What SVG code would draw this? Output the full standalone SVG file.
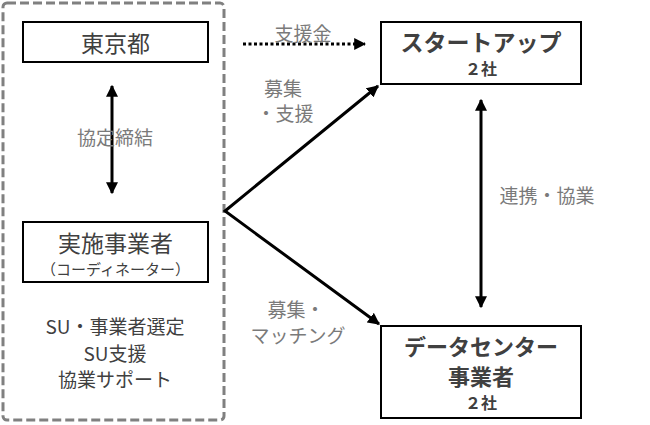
<svg xmlns="http://www.w3.org/2000/svg" width="650" height="425" viewBox="0 0 650 425">
<style>
text{font-family:"Noto Sans CJK JP","Noto Sans",sans-serif;text-anchor:middle;dominant-baseline:central}
.box{fill:#fff;stroke:#000;stroke-width:2}
.nt{fill:#404040}
.lb{fill:#7a7a7a;font-size:19px}
.b{font-weight:bold}
.ln{stroke:#000;stroke-width:3;fill:none}
</style>
<defs>
<marker id="ah" viewBox="0 0 10 10" refX="9" refY="5" markerWidth="4" markerHeight="4" orient="auto-start-reverse" markerUnits="strokeWidth">
<path d="M0,0L10,5L0,10z" fill="#000"/>
</marker>
</defs>
<rect id="frame" x="3" y="3" width="221" height="417" rx="4" fill="none" stroke="#808080" stroke-width="3" stroke-dasharray="9,4"/>
<g id="connectors">
<line class="ln" x1="112" y1="86" x2="112" y2="193" marker-start="url(#ah)" marker-end="url(#ah)" stroke-width="2.5"/>
<line class="ln" x1="243" y1="44" x2="365" y2="44" stroke-dasharray="3,2.5" marker-end="url(#ah)"/>
<polyline class="ln" points="378,86 225,211 379,324" marker-start="url(#ah)" marker-end="url(#ah)"/>
<line class="ln" x1="481" y1="100" x2="481" y2="307" marker-start="url(#ah)" marker-end="url(#ah)" stroke-width="2.5"/>
<text class="lb" x="115" y="136">協定締結</text>
<text class="lb" x="303" y="32">支援金</text>
<text class="lb" x="283" y="87">募集</text>
<text class="lb" x="285" y="112">・支援</text>
<text class="lb" x="547" y="194">連携・協業</text>
<text class="lb" x="296" y="308">募集・</text>
<text class="lb" x="298" y="334">マッチング</text>
</g>
<g id="tokyo">
<rect class="box" x="23" y="22" width="185" height="40"/>
<text class="nt" x="115.5" y="42" font-size="23">東京都</text>
</g>
<g id="jisshi">
<rect class="box" x="23" y="222" width="185" height="60"/>
<text class="nt" x="115.5" y="242" font-size="23">実施事業者</text>
<text class="nt" x="115.5" y="268" font-size="15">（コーディネーター）</text>
</g>
<g id="roles">
<text class="nt" x="115" y="325" font-size="19">SU・事業者選定</text>
<text class="nt" x="115" y="352" font-size="19">SU支援</text>
<text class="nt" x="115" y="378" font-size="19">協業サポート</text>
</g>
<g id="startup">
<rect class="box" x="381" y="22" width="200" height="62"/>
<text class="nt b" x="481" y="41" font-size="23">スタートアップ</text>
<text class="nt b" x="481" y="68" font-size="16">２社</text>
</g>
<g id="datacenter">
<rect class="box" x="381" y="326" width="200" height="92"/>
<text class="nt b" x="481" y="345" font-size="22">データセンター</text>
<text class="nt b" x="481" y="375" font-size="22">事業者</text>
<text class="nt b" x="481" y="402" font-size="16">２社</text>
</g>
</svg>
